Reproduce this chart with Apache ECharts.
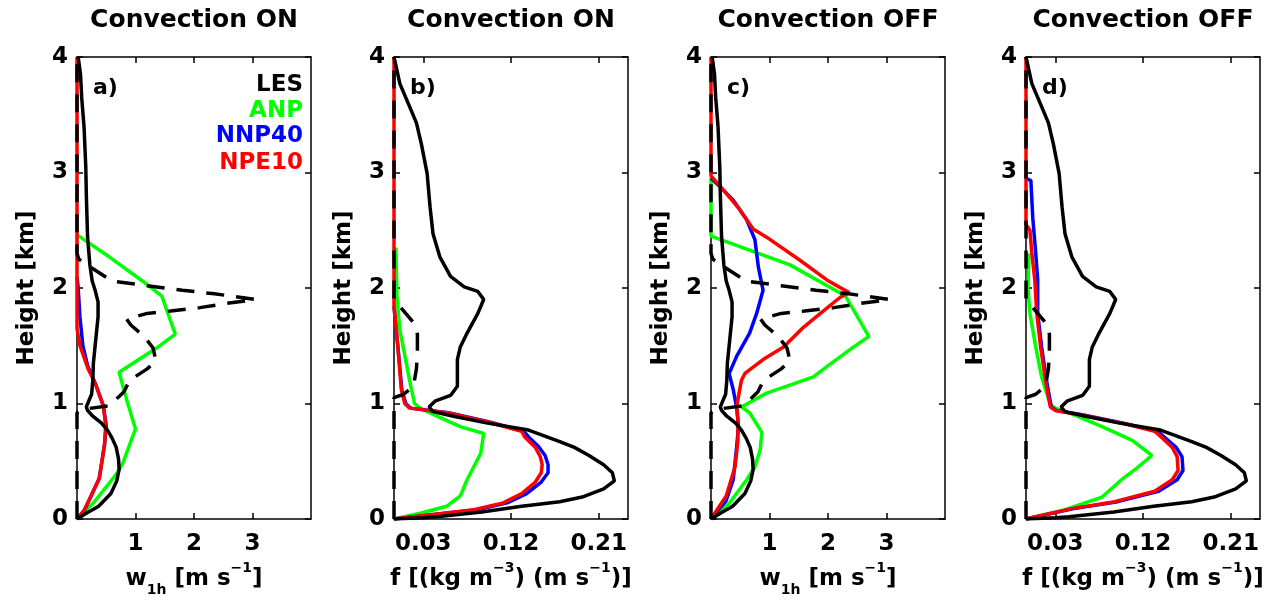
<!DOCTYPE html>
<html><head><meta charset="utf-8">
<script src="https://cdn.jsdelivr.net/npm/echarts@6/dist/echarts.min.js"></script>
<style>html,body{margin:0;padding:0;background:#fff}#c{width:1272px;height:606px}</style>
</head><body><div id="c"></div>
<script>
// ---------- labels ----------
const panelTitles = ['Convection ON', 'Convection ON', 'Convection OFF', 'Convection OFF'];
const panelLetters = ['a)', 'b)', 'c)', 'd)'];
const heightTicks = [0, 1, 2, 3, 4];
const wTicks = [1, 2, 3];
const fTicks = [0.03, 0.12, 0.21];
const legendNames = ['LES', 'ANP', 'NNP40', 'NPE10'];
const legendColors = ['#000000', '#00ff00', '#0000ff', '#ff0000'];

// ---------- data: [value, height km] ----------
// LES (reference) w_1h profiles, panels a & c
const LES_w = [[0,0],[0.16,0.05],[0.37,0.11],[0.58,0.22],[0.68,0.33],[0.72,0.43],[0.71,0.52],[0.67,0.62],[0.6,0.7],[0.52,0.77],[0.42,0.83],[0.27,0.89],[0.18,0.94],[0.16,0.97],[0.2,1.02],[0.25,1.08],[0.27,1.2],[0.28,1.35],[0.32,1.55],[0.36,1.75],[0.36,1.88],[0.31,1.98],[0.26,2.06],[0.22,2.2],[0.18,2.45],[0.16,2.8],[0.15,3.05],[0.12,3.4],[0.08,3.65],[0.06,3.85],[0.02,4.0]];
const LES_w_dash = [[0,0],[0,0.92],[0.1,0.95],[0.55,0.98],[0.8,1.1],[0.9,1.2],[1.2,1.3],[1.35,1.37],[1.3,1.48],[1.15,1.58],[0.92,1.68],[0.85,1.73],[1.2,1.78],[1.6,1.8],[2.1,1.83],[2.6,1.87],[3.05,1.9],[2.35,1.95],[1.8,1.98],[1.2,2.02],[0.6,2.06],[0.2,2.19],[0.03,2.25],[0,2.3],[0,4]];
// Convection ON, w_1h (panel a)
const ANP_w_on = [[0,0],[0.3,0.15],[0.66,0.38],[0.78,0.48],[1.0,0.78],[0.85,1.03],[0.72,1.27],[1.36,1.48],[1.68,1.6],[1.45,1.93],[1.2,2.03],[0.55,2.27],[0,2.46]];
const NNP40_w_on = [[0,0],[0.13,0.08],[0.38,0.35],[0.47,0.64],[0.5,0.81],[0.45,0.98],[0.33,1.15],[0.18,1.33],[0.1,1.5],[0.05,1.75],[0.02,2.0],[0,2.1]];
const NPE10_w_on = [[0,0],[0.13,0.08],[0.38,0.35],[0.47,0.64],[0.49,0.81],[0.45,0.98],[0.31,1.18],[0.19,1.3],[0.05,1.5],[0,1.65],[0,4]];
// Convection OFF, w_1h (panel c)
const ANP_w_off = [[0,0],[0.32,0.14],[0.61,0.34],[0.75,0.45],[0.84,0.6],[0.87,0.75],[0.66,0.92],[0.52,0.97],[0.95,1.09],[1.41,1.17],[1.75,1.23],[1.98,1.32],[2.44,1.49],[2.7,1.58],[2.3,1.93],[1.35,2.2],[0,2.45],[0,2.95]];
const NNP40_w_off = [[0,0],[0.26,0.16],[0.38,0.34],[0.44,0.63],[0.47,0.8],[0.44,0.96],[0.38,1.12],[0.31,1.26],[0.44,1.41],[0.66,1.61],[0.78,1.78],[0.89,1.98],[0.81,2.18],[0.75,2.42],[0.61,2.59],[0.38,2.76],[0.15,2.88],[0,2.95]];
const NPE10_w_off = [[0,0],[0.26,0.2],[0.41,0.45],[0.46,0.68],[0.46,0.86],[0.44,0.98],[0.52,1.2],[0.58,1.26],[0.89,1.38],[1.24,1.49],[1.58,1.66],[1.87,1.78],[2.21,1.92],[2.36,1.96],[1.98,2.07],[1.52,2.24],[0.95,2.44],[0.72,2.51],[0.49,2.68],[0.21,2.85],[0,2.97],[0,4]];
// LES (reference) f profiles, panels b & d
const LES_f = [[0,0],[0.03,0.01],[0.044,0.02],[0.09,0.06],[0.131,0.11],[0.17,0.15],[0.193,0.19],[0.215,0.26],[0.226,0.33],[0.224,0.4],[0.215,0.47],[0.2,0.55],[0.185,0.62],[0.17,0.67],[0.138,0.77],[0.096,0.83],[0.061,0.89],[0.04,0.93],[0.036,0.97],[0.042,1.02],[0.058,1.07],[0.065,1.15],[0.065,1.38],[0.068,1.49],[0.075,1.61],[0.086,1.78],[0.092,1.9],[0.086,1.97],[0.072,2.01],[0.058,2.1],[0.047,2.27],[0.04,2.47],[0.037,2.7],[0.034,2.99],[0.028,3.25],[0.023,3.43],[0.016,3.57],[0.006,3.77],[0,4.0]];
const LES_f_dash = [[0,0],[0,1.05],[0.01,1.08],[0.02,1.15],[0.023,1.3],[0.024,1.45],[0.024,1.6],[0.02,1.7],[0.009,1.81],[0,1.9],[0,4]];
// Convection ON, f (panel b)
const ANP_f_on = [[0,0],[0.027,0.05],[0.054,0.11],[0.068,0.2],[0.075,0.34],[0.089,0.57],[0.092,0.74],[0.068,0.8],[0.044,0.89],[0.027,0.96],[0.021,1.0],[0.016,1.2],[0.006,1.64],[0.003,1.92],[0.002,2.35]];
const NNP40_f_on = [[0,0],[0.041,0.04],[0.085,0.08],[0.116,0.14],[0.136,0.22],[0.151,0.32],[0.158,0.4],[0.158,0.47],[0.155,0.55],[0.148,0.63],[0.138,0.71],[0.133,0.76],[0.098,0.84],[0.056,0.92],[0.017,0.96],[0.012,1.0],[0.008,1.12],[0.004,1.49],[0,1.84]];
const NPE10_f_on = [[0,0],[0.04,0.04],[0.082,0.08],[0.112,0.14],[0.131,0.22],[0.145,0.32],[0.151,0.4],[0.152,0.47],[0.15,0.54],[0.145,0.62],[0.134,0.71],[0.131,0.76],[0.096,0.84],[0.054,0.92],[0.016,0.96],[0.011,1.0],[0.0075,1.12],[0.004,1.49],[0,1.84],[0,4]];
// Convection OFF, f (panel d)
const ANP_f_off = [[0,0],[0.04,0.08],[0.078,0.19],[0.098,0.34],[0.115,0.45],[0.129,0.55],[0.109,0.68],[0.078,0.8],[0.05,0.9],[0.03,0.96],[0.025,0.99],[0.016,1.23],[0.01,1.49],[0.004,1.78],[0.002,2.0],[0.003,2.3]];
const NNP40_f_off = [[0,0],[0.049,0.09],[0.094,0.15],[0.136,0.24],[0.155,0.34],[0.161,0.42],[0.16,0.54],[0.154,0.62],[0.143,0.7],[0.135,0.76],[0.1,0.83],[0.059,0.9],[0.031,0.94],[0.026,0.97],[0.024,1.06],[0.021,1.2],[0.016,1.49],[0.012,1.78],[0.012,2.07],[0.01,2.3],[0.007,2.6],[0.005,2.93],[0,2.95]];
const NPE10_f_off = [[0,0],[0.047,0.09],[0.091,0.15],[0.132,0.24],[0.15,0.34],[0.156,0.42],[0.155,0.54],[0.15,0.62],[0.14,0.7],[0.132,0.76],[0.098,0.83],[0.057,0.9],[0.03,0.94],[0.025,0.97],[0.023,1.06],[0.02,1.2],[0.015,1.49],[0.011,1.78],[0.009,2.07],[0.006,2.3],[0.004,2.5],[0,2.55],[0,4]];

// ---------- layout ----------
const FONT = 'DejaVu Sans';
const gridLefts = [77, 394, 711, 1026];
const GW = 234, GT = 57, GH = 462;
const panels = [
  {kind: 'w', les: LES_w, lesDash: LES_w_dash, anp: ANP_w_on, nnp: NNP40_w_on, npe: NPE10_w_on},
  {kind: 'f', les: LES_f, lesDash: LES_f_dash, anp: ANP_f_on, nnp: NNP40_f_on, npe: NPE10_f_on},
  {kind: 'w', les: LES_w, lesDash: LES_w_dash, anp: ANP_w_off, nnp: NNP40_w_off, npe: NPE10_w_off},
  {kind: 'f', les: LES_f, lesDash: LES_f_dash, anp: ANP_f_off, nnp: NNP40_f_off, npe: NPE10_f_off}
];
const wName = '{m|w}{s|1h}{m| [m s}{p|\u22121}{m|]}';
const fName = '{m|f [(kg m}{p|\u22123}{m|) (m s}{p|\u22121}{m|)]}';
const richStyles = {
  m: {fontSize: 23, fontWeight: 'bold', fontFamily: FONT, color: '#000', lineHeight: 36, verticalAlign: 'middle'},
  s: {fontSize: 14, fontWeight: 'bold', fontFamily: FONT, color: '#000', lineHeight: 14, verticalAlign: 'bottom'},
  p: {fontSize: 14, fontWeight: 'bold', fontFamily: FONT, color: '#000', lineHeight: 14, verticalAlign: 'top'}
};
const lineBlack = {color: '#000', width: 1.5};
const labelStyle = {color: '#000', fontSize: 23, fontWeight: 'bold', fontFamily: FONT};

const grids = [], xAxes = [], yAxes = [], series = [], graphics = [];
panels.forEach((p, i) => {
  grids.push({left: gridLefts[i], top: GT, width: GW, height: GH});
  const isW = p.kind === 'w';
  const ticks = isW ? wTicks : fTicks;
  const xmax = isW ? 4 : 0.24;
  const common = {gridIndex: i, type: 'value', min: 0, max: xmax, splitLine: {show: false},
    axisLine: {show: true, onZero: false, lineStyle: lineBlack}};
  xAxes.push(Object.assign({}, common, {
    position: 'bottom',
    axisTick: {show: true, inside: true, length: 6, customValues: ticks, lineStyle: lineBlack},
    axisLabel: Object.assign({customValues: ticks, margin: 14,
      formatter: v => isW ? String(Math.round(v)) : String(+(+v).toFixed(2))}, labelStyle),
    name: isW ? wName : fName, nameLocation: 'middle', nameGap: 42,
    nameTextStyle: {rich: richStyles}
  }));
  xAxes.push(Object.assign({}, common, {
    position: 'top',
    axisTick: {show: true, inside: true, length: 6, customValues: ticks, lineStyle: lineBlack},
    axisLabel: {show: false}
  }));
  const ycommon = {gridIndex: i, type: 'value', min: 0, max: 4, interval: 1, splitLine: {show: false},
    axisLine: {show: true, onZero: false, lineStyle: lineBlack},
    axisTick: {show: true, inside: true, length: 6, lineStyle: lineBlack}};
  yAxes.push(Object.assign({}, ycommon, {
    position: 'left',
    axisLabel: Object.assign({margin: 9, customValues: heightTicks}, labelStyle),
    name: 'Height [km]', nameLocation: 'middle', nameGap: 38,
    nameTextStyle: {color: '#000', fontSize: 23, fontWeight: 'bold', fontFamily: FONT}
  }));
  yAxes.push(Object.assign({}, ycommon, {position: 'right', axisLabel: {show: false}}));

  const mk = (data, color, dashed) => ({
    type: 'line', xAxisIndex: 2 * i, yAxisIndex: 2 * i, data: data,
    showSymbol: false, symbol: 'none', silent: true,
    lineStyle: {color: color, width: 3.5, type: dashed ? [18, 12] : 'solid'}
  });
  series.push(mk(p.anp, legendColors[1]));
  series.push(mk(p.nnp, legendColors[2]));
  series.push(mk(p.npe, legendColors[3]));
  series.push(mk(p.les, legendColors[0]));
  series.push(mk(p.lesDash, legendColors[0], true));

  graphics.push({type: 'text', x: gridLefts[i] + GW / 2, y: 20,
    style: {text: panelTitles[i], fill: '#000', font: 'bold 25px "' + FONT + '"', align: 'center', verticalAlign: 'middle'}});
  graphics.push({type: 'text', x: gridLefts[i] + 16, y: 88,
    style: {text: panelLetters[i], fill: '#000', font: 'bold 22px "' + FONT + '"', align: 'left', verticalAlign: 'middle'}});
});
const legendY = [85, 111, 136, 163];
legendNames.forEach((n, k) => {
  graphics.push({type: 'text', x: 303, y: legendY[k],
    style: {text: n, fill: legendColors[k], font: 'bold 23px "' + FONT + '"', align: 'right', verticalAlign: 'middle'}});
});

const chart = echarts.init(document.getElementById('c'), null, {renderer: 'canvas'});
chart.setOption({
  animation: false,
  backgroundColor: '#fff',
  grid: grids, xAxis: xAxes, yAxis: yAxes, series: series, graphic: graphics
});
</script></body></html>
